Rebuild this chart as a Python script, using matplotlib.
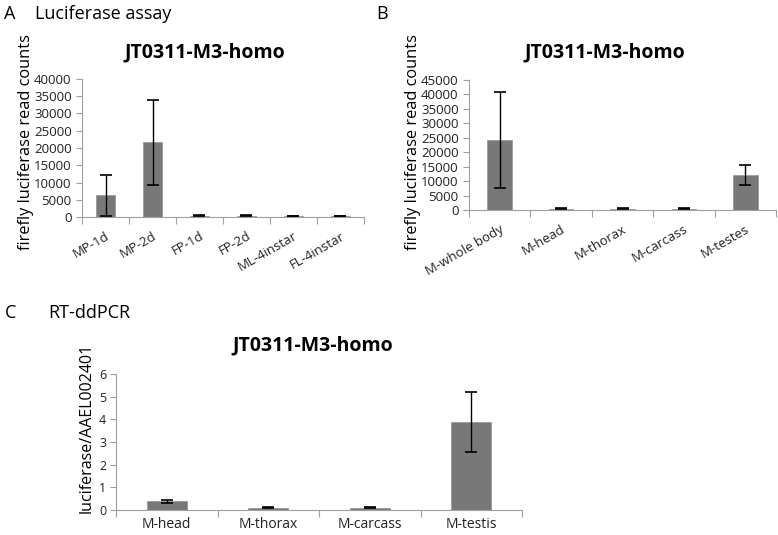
import matplotlib.pyplot as plt
import numpy as np

plt.rcParams['font.family'] = ['Open Sans', 'DejaVu Sans']

# Panel A: luciferase assay by stage
a_labels = ['MP-1d', 'MP-2d', 'FP-1d', 'FP-2d', 'ML-4instar', 'FL-4instar']
a_values = [6300, 21600, 400, 400, 300, 300]
a_err = [6000, 12300, 100, 100, 50, 50]

# Panel B: luciferase assay by tissue
b_labels = ['M-whole body', 'M-head', 'M-thorax', 'M-carcass', 'M-testes']
b_values = [24200, 500, 500, 500, 12100]
b_err = [16700, 150, 150, 150, 3400]

# Panel C: RT-ddPCR
c_labels = ['M-head', 'M-thorax', 'M-carcass', 'M-testis']
c_values = [0.38, 0.11, 0.11, 3.9]
c_err = [0.05, 0.03, 0.03, 1.32]

BAR = '#787878'
SPINE = '#a0a0a0'
W, H = 778, 535


def px_axes(fig, left, right, top, bottom):
    return fig.add_axes([left / W, 1 - bottom / H, (right - left) / W, (bottom - top) / H])


def draw_panel(ax, labels, values, err, width, ymax, ystep, rot, xsize, xpad):
    x = np.arange(len(labels))
    ax.bar(x, values, width=width, color=BAR, edgecolor='#9a9a9a', linewidth=0.6, zorder=2)
    ax.errorbar(x, values, yerr=err, fmt='none', ecolor='black', elinewidth=1,
                capsize=4, capthick=1.2, zorder=3)
    ax.set_xlim(-0.5, len(labels) - 0.5)
    ax.set_ylim(0, ymax)
    ax.set_yticks(np.arange(0, ymax + ystep / 2, ystep))
    ax.set_xticks(np.arange(-0.5, len(labels), 1.0))
    ax.set_xticklabels([])
    ax.set_xticks(x, minor=True)
    if rot:
        ax.set_xticklabels(labels, minor=True, rotation=rot, ha='right', rotation_mode='anchor')
    else:
        ax.set_xticklabels(labels, minor=True)
    ax.tick_params(axis='x', which='major', direction='out', length=5, color=SPINE)
    ax.tick_params(axis='x', which='minor', length=0, pad=xpad, labelsize=xsize, colors='#222222')
    ax.tick_params(axis='y', direction='out', length=4, color=SPINE, labelsize=9.5, colors='#222222')
    for s in ['top', 'right']:
        ax.spines[s].set_visible(False)
    for s in ['left', 'bottom']:
        ax.spines[s].set_color(SPINE)


fig = plt.figure(figsize=(7.78, 5.35), dpi=100)

ax_a = px_axes(fig, 82, 364, 79, 217)
draw_panel(ax_a, a_labels, a_values, a_err, 0.41, 40000, 5000, 30, 9.5, 9)

ax_b = px_axes(fig, 469, 776, 80, 210)
draw_panel(ax_b, b_labels, b_values, b_err, 0.4, 45000, 5000, 30, 9.5, 9)

ax_c = px_axes(fig, 116, 522, 374, 510)
draw_panel(ax_c, c_labels, c_values, c_err, 0.39, 6, 1, 0, 10, 5)
ax_c.tick_params(axis='y', labelsize=9, pad=3)

# chart titles, centred over each chart area
for cx, cy in [(205, 52), (605, 52), (313, 345)]:
    fig.text(cx / W, 1 - cy / H, 'JT0311-M3-homo', fontsize=14, fontweight='bold',
             ha='center', va='center')

# y-axis labels
fig.text(26 / W, 1 - 142 / H, 'firefly luciferase read counts', fontsize=11.8,
         rotation=90, ha='center', va='center')
fig.text(413 / W, 1 - 142 / H, 'firefly luciferase read counts', fontsize=11.8,
         rotation=90, ha='center', va='center')
fig.text(87 / W, 1 - 428 / H, 'luciferase/AAEL002401', fontsize=11.5,
         rotation=90, ha='center', va='center')

# panel letters and headings
fig.text(4 / W, 1 - 14 / H, 'A', fontsize=13, va='center')
fig.text(35 / W, 1 - 14 / H, 'Luciferase assay', fontsize=13, va='center')
fig.text(376 / W, 1 - 14 / H, 'B', fontsize=13, va='center')
fig.text(5 / W, 1 - 313 / H, 'C', fontsize=13, va='center')
fig.text(48 / W, 1 - 313 / H, 'RT-ddPCR', fontsize=13, va='center')

fig.savefig('out.png', dpi=100)
